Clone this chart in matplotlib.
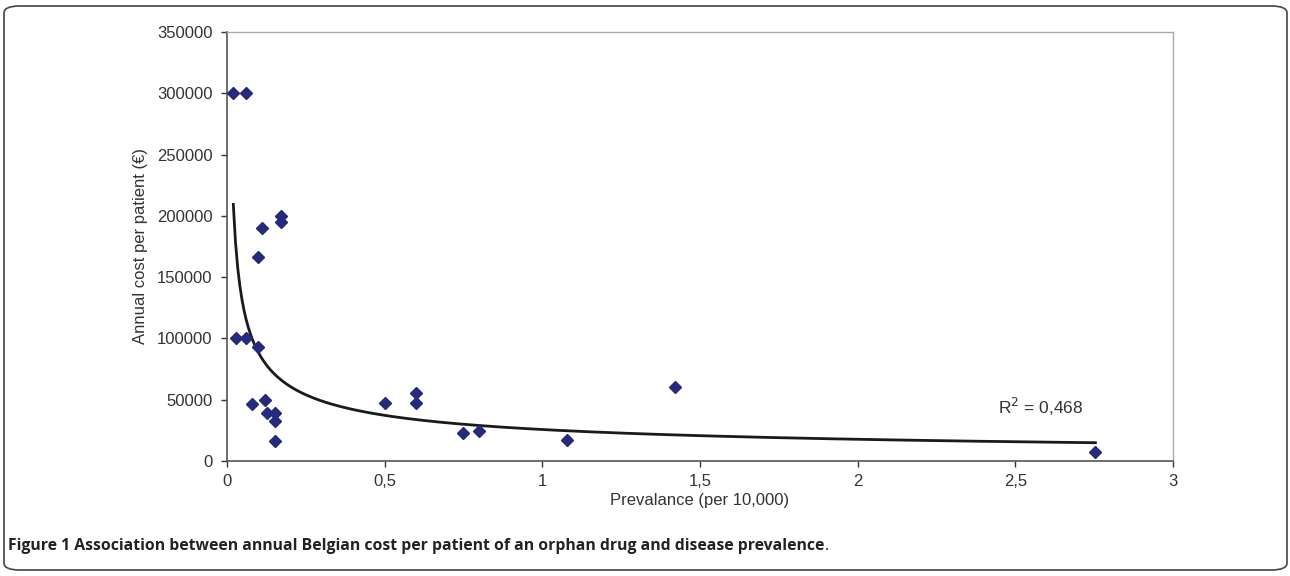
import numpy as np
import matplotlib.pyplot as plt
from matplotlib.patches import FancyBboxPatch

# Data
prevalence = [0.020, 0.060, 0.028, 0.060, 0.097, 0.097, 0.111, 0.170, 0.170,
              0.080, 0.120, 0.127, 0.151, 0.151, 0.151,
              0.500, 0.600, 0.600, 0.750, 0.800, 1.079, 1.422, 2.754]
cost = [300000, 300000, 100000, 100000, 93000, 166500, 190500, 200000, 195000,
        46500, 50000, 39000, 39000, 32500, 16000,
        47000, 55500, 47500, 22500, 24500, 17000, 60000, 7000]
xticks = [0, 0.5, 1, 1.5, 2, 2.5, 3]
xtick_labels = ['0', '0,5', '1', '1,5', '2', '2,5', '3']
yticks = [0, 50000, 100000, 150000, 200000, 250000, 300000, 350000]
r2_label = 'R$^2$ = 0,468'
caption = 'Figure 1 Association between annual Belgian cost per patient of an orphan drug and disease prevalence'

plt.rcParams['font.family'] = ['Liberation Sans', 'DejaVu Sans']

fig = plt.figure(figsize=(12.9, 5.76), dpi=100)
ax = fig.add_axes([227/1290, 1 - 461/576, (1173 - 227)/1290, (461 - 32)/576])

# power trendline fitted in log-log space (as Excel does)
x = np.array(prevalence)
y = np.array(cost)
b, loga = np.polyfit(np.log(x), np.log(y), 1)
xs = np.linspace(x.min(), x.max(), 400)
ax.plot(xs, np.exp(loga) * xs ** b, color='#1a1a1a', lw=2, zorder=2)

ax.plot(x, y, 'D', color='#262a7c', ms=6, mec='#262a7c', zorder=3)

ax.set_xlim(0, 3)
ax.set_ylim(0, 350000)
ax.set_xticks(xticks)
ax.set_xticklabels(xtick_labels)
ax.set_yticks(yticks)
ax.set_yticklabels([str(v) for v in yticks])
ax.tick_params(labelsize=12, colors='#333333', length=4.5, width=1, direction='out')
ax.tick_params(axis='x', pad=5)
ax.tick_params(axis='y', pad=6)
for side in ['left', 'bottom']:
    ax.spines[side].set_color('#555555')
    ax.spines[side].set_linewidth(1.2)
for side in ['top', 'right']:
    ax.spines[side].set_color('#aaaaaa')
    ax.spines[side].set_linewidth(1)

fig.text(700/1290, 1 - 501/576, 'Prevalance (per 10,000)', fontsize=12,
         color='#333333', ha='center', va='center')
fig.text(140/1290, 1 - 246/576, 'Annual cost per patient (€)', fontsize=12,
         color='#333333', ha='center', va='center', rotation=90)

ax.text(2.445, 44000, r2_label, fontsize=12.5, color='#333333', va='center')

cap = fig.text(8/1290, 1 - 546/576, caption, fontsize=11.3, fontweight='bold',
               family=['Open Sans', 'DejaVu Sans'], color='#222222', va='center')
fig.canvas.draw()
bb = cap.get_window_extent()
fig.text(bb.x1 / 1290, 1 - 546/576, '.', fontsize=11.3,
         family=['Open Sans', 'DejaVu Sans'], color='#222222', va='center')

border = FancyBboxPatch((4/1290, 6/576), 1283/1290, 564/576,
                        boxstyle='round,pad=0,rounding_size=0.012',
                        transform=fig.transFigure, fill=False,
                        edgecolor='#444444', lw=1.2)
fig.patches.append(border)

fig.savefig('out.png', dpi=100)
